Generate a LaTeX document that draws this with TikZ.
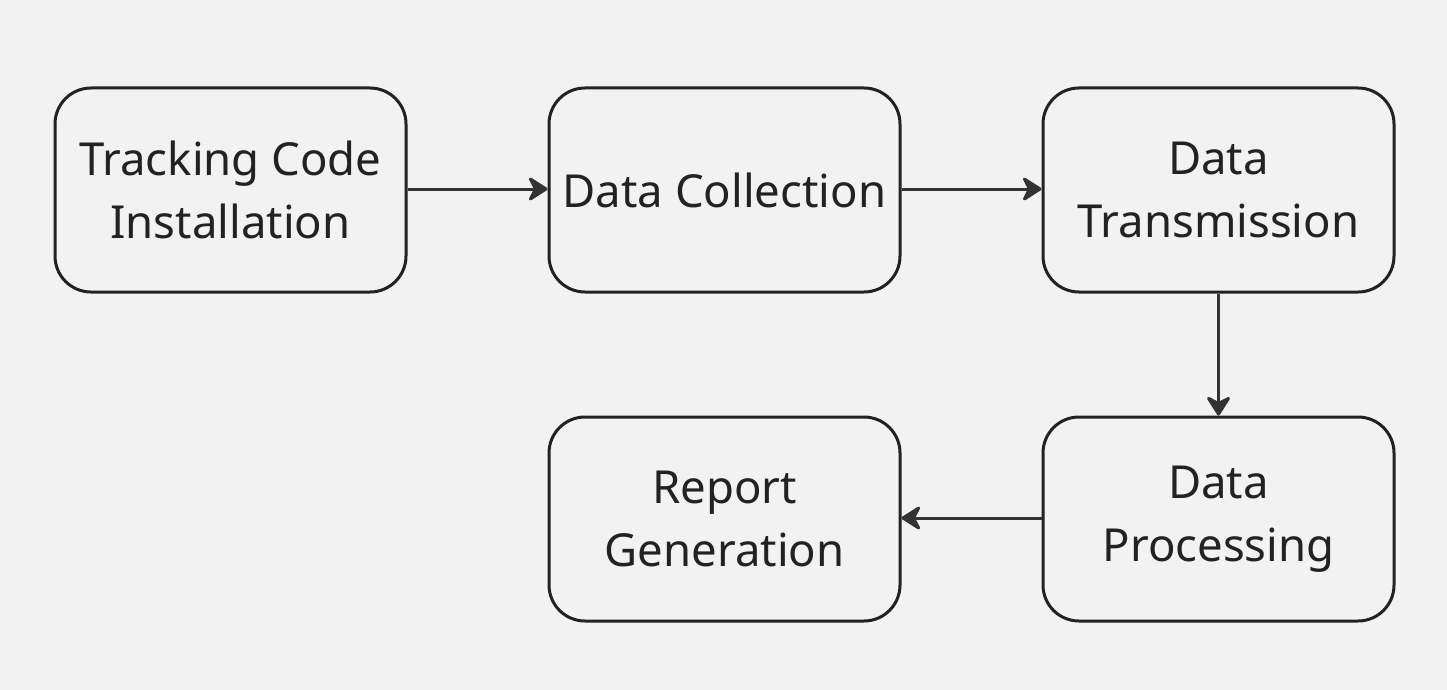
\documentclass[tikz,border=0pt]{standalone}
\usepackage{fontspec}
\setmainfont{Noto Sans}
\usetikzlibrary{arrows.meta}
\definecolor{bg}{HTML}{F2F2F2}
\definecolor{edge}{HTML}{222222}
\definecolor{arr}{HTML}{333333}
\begin{document}
\begin{tikzpicture}[x=1pt,y=-1pt,
  stepbox/.style={draw=edge, line width=3pt, rounded corners=36pt, minimum width=351pt, minimum height=204pt, align=center, inner sep=0pt, font=\fontsize{45.5pt}{63pt}\selectfont, text=edge},
  flow/.style={draw=arr, line width=3pt, -{Stealth[length=22pt,width=28pt,inset=7pt,round]}}]
\fill[bg] (0,0) rectangle (1447,690);
\useasboundingbox (0,0) rectangle (1447,690);
\node[stepbox] (a) at (230.5,190) {Tracking Code\\Installation};
\node[stepbox] (b) at (724.5,190) {Data Collection};
\node[stepbox] (c) at (1218.5,190) {Data\\Transmission};
\node[stepbox] (d) at (1218.5,519) {Data\\Processing};
\node[stepbox] (e) at (724.5,519) {Report\\Generation};
\draw[flow] (a.east |- 0,189) -- (b.west |- 0,189);
\draw[flow] (b.east |- 0,189) -- (c.west |- 0,189);
\draw[flow] (c) -- (d);
\draw[flow] (d.west |- 0,518) -- (e.east |- 0,518);
\end{tikzpicture}
\end{document}
